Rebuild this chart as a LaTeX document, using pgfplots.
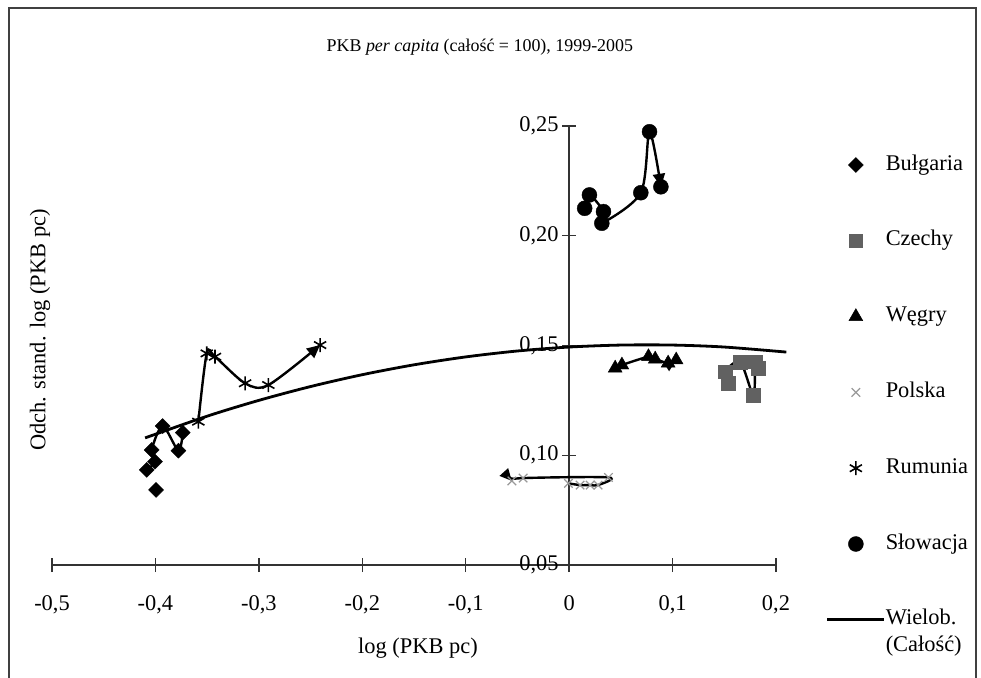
\documentclass[border=0pt]{standalone}
\usepackage{fontspec}
\setmainfont{Liberation Serif}
\usepackage{pgfplots}
\pgfplotsset{compat=1.18}
\usepackage{pgfplotstable}
\usetikzlibrary{arrows.meta}

% Bulgaria: line order, then all points
\pgfplotstableread{
x y
-0.4084 0.0933
-0.4004 0.0971
-0.4036 0.1024
-0.3930 0.1133
-0.3778 0.1021
-0.3736 0.1103
}\bgline
\pgfplotstableread{
x y
-0.4084 0.0933
-0.4004 0.0971
-0.4036 0.1024
-0.3930 0.1133
-0.3778 0.1021
-0.3736 0.1103
-0.3994 0.0842
}\bgpts
\pgfplotstableread{
x y
0.1540 0.1328
0.1509 0.1381
0.1654 0.1425
0.1782 0.1274
0.1799 0.1426
0.1828 0.1397
}\cz
\pgfplotstableread{
x y
0.0445 0.1397
0.0510 0.1411
0.0767 0.1449
0.0832 0.1438
0.0957 0.1420
0.1035 0.1434
}\hu
\pgfplotstableread{
x y
-0.0007 0.0872
0.0106 0.0864
0.0203 0.0864
0.0280 0.0864
0.0380 0.0899
-0.0445 0.0896
-0.0554 0.0883
}\pl
\pgfplotstableread{
x y
-0.3585 0.1153
-0.3504 0.1464
-0.3424 0.1449
-0.3133 0.1328
-0.2908 0.1320
-0.2408 0.1502
}\ro
\pgfplotstableread{
x y
0.0150 0.2125
0.0196 0.2186
0.0332 0.2110
0.0316 0.2057
0.0693 0.2196
0.0777 0.2474
0.0887 0.2223
}\sk
% polynomial trend
\pgfplotstableread{
x y
-0.41 0.1079
-0.35 0.1178
-0.30 0.1250
-0.25 0.1313
-0.20 0.1367
-0.15 0.1412
-0.10 0.1448
-0.05 0.1475
0.00 0.1493
0.05 0.1502
0.10 0.1502
0.15 0.1493
0.21 0.1470
}\trend

\begin{document}
\begin{tikzpicture}[font=\fontsize{22.5}{27}\selectfont]
\useasboundingbox (-52bp,-113bp) rectangle (929bp,565bp);
\draw[black!75, line width=1.5bp] (-43bp,-130bp) -- (-43bp,557bp) -- (924bp,557bp) -- (924bp,-130bp);
\begin{axis}[
    scale only axis, width=724bp, height=439bp,
    xmin=-0.5, xmax=0.2, ymin=0.05, ymax=0.25,
    axis x line*=bottom, axis y line*=middle,
    hide obscured x ticks=false, hide obscured y ticks=false,
    xtick={-0.5,-0.4,-0.3,-0.2,-0.1,0,0.1,0.2},
    ytick={0.05,0.1,0.15,0.2,0.25},
    minor tick num=0,
    tick align=center, major tick length=14bp,
    axis line style={line width=1.3bp, black!80},
    every tick/.style={line width=1.3bp, black!80},
    /pgf/number format/assume math mode=true,
    tick label style={font=\fontsize{22.5}{27}\selectfont},
    xticklabel style={yshift=-20bp, /pgf/number format/.cd, fixed, precision=1, use comma},
    yticklabel style={/pgf/number format/.cd, fixed, fixed zerofill, precision=2, use comma},
    clip=false,
    legend cell align=left,
    legend style={at={(rel axis cs:1.0690,0.9362)}, anchor=north west,
        draw=none, fill=none, inner sep=0pt, outer sep=0pt,
        row sep=53.8bp, column sep=0bp,
        font=\fontsize{22.5}{27}\selectfont,
        nodes={inner sep=0pt, text height=16bp, text depth=6bp}},
    legend image code/.code={\draw[mark repeat=2,mark phase=2,#1] plot coordinates {(0bp,0bp) (28.5bp,0bp) (57bp,0bp)};},
]
% connecting lines
\addplot[forget plot, smooth, line width=2.4bp, black] table {\bgline};
\addplot[forget plot, smooth, line width=2.4bp, black] table {\cz};
\addplot[forget plot, smooth, line width=2.4bp, black, -{Triangle[length=12bp,width=11bp]}] table {\hu};
\addplot[forget plot, smooth, line width=2.4bp, black, -{Triangle[length=12bp,width=11bp]}] table {\pl};
\addplot[forget plot, smooth, line width=2.4bp, black, -{Triangle[length=13bp,width=12bp]}] table {\ro};
\addplot[forget plot, smooth, line width=2.4bp, black, -{Triangle[length=13bp,width=12bp]}] table {\sk};
% markers
\addplot[only marks, mark=square*, mark size=5.3bp, mark options={rotate=45, fill=black, draw=black}] table {\bgpts};
\addlegendentry{Bułgaria}
\addplot[only marks, mark=square*, mark size=6.8bp, mark options={fill=black!62, draw=black!62}] table {\cz};
\addlegendentry{Czechy}
\addplot[only marks, mark=triangle*, mark size=8bp, mark options={fill=black, draw=black}] table {\hu};
\addlegendentry{Węgry}
\addplot[only marks, mark=x, mark size=6bp, mark options={draw=black!40, line width=1.2bp}] table {\pl};
\addlegendentry{Polska}
\addplot[only marks, mark=asterisk, mark size=7bp, mark options={draw=black, line width=1.6bp}] table {\ro};
\addlegendentry{Rumunia}
\addplot[only marks, mark=*, mark size=7.5bp, mark options={fill=black, draw=black}] table {\sk};
\addlegendentry{Słowacja}
\addplot[smooth, line width=2.8bp, black] table {\trend};
\addlegendentry{\begin{tabular}[t]{@{}l@{}}Wielob.\\(Całość)\end{tabular}}
% titles
\node[font=\fontsize{18}{22}\selectfont] at (rel axis cs:0.591,1.18) {PKB \textit{per capita} (całość = 100), 1999-2005};
\node at (rel axis cs:0.5055,-0.189) {log (PKB pc)};
\node[rotate=90] at (rel axis cs:-0.0166,0.535) {Odch. stand. log (PKB pc)};
\end{axis}
\end{tikzpicture}
\end{document}
